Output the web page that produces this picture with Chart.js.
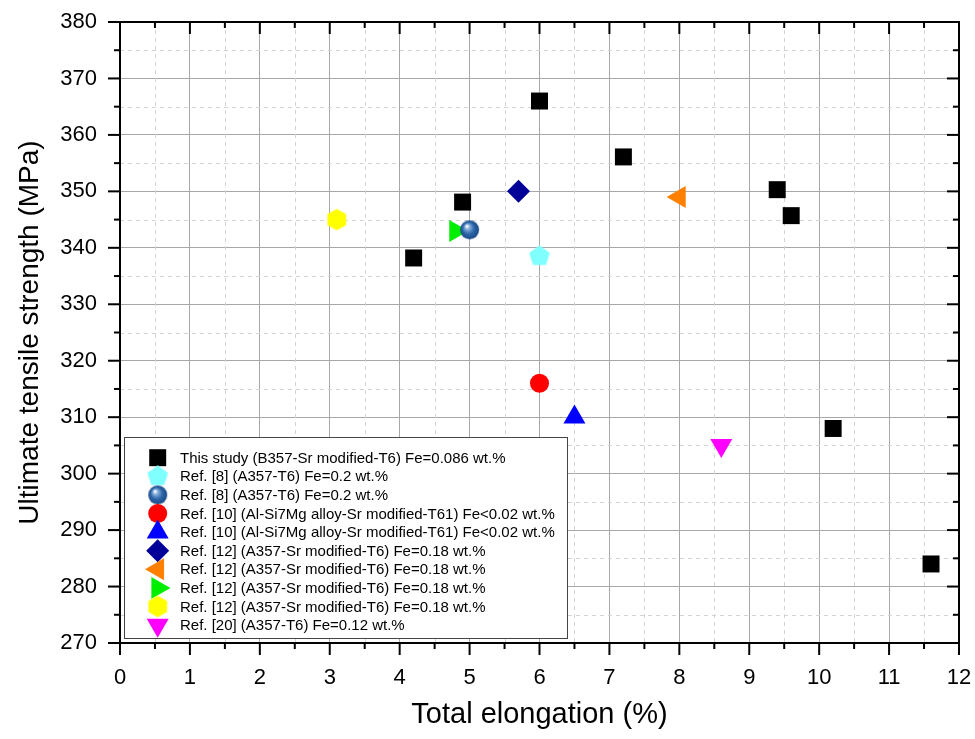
<!DOCTYPE html>
<html>
<head>
<meta charset="utf-8">
<script src="https://cdn.jsdelivr.net/npm/chart.js@4/dist/chart.umd.min.js"></script>
<style>
  html, body { margin: 0; padding: 0; background: #fff; }
  #wrap { width: 975px; height: 739px; }
</style>
</head>
<body>
<div id="wrap"><canvas id="uts"></canvas></div>
<script>
// data
const xTicks = [0, 1, 2, 3, 4, 5, 6, 7, 8, 9, 10, 11, 12]
const yTicks = [270, 280, 290, 300, 310, 320, 330, 340, 350, 360, 370, 380]

const seriesNames = [
  "This study (B357-Sr modified-T6) Fe=0.086 wt.%",
  "Ref. [8] (A357-T6) Fe=0.2 wt.%",
  "Ref. [8] (A357-T6) Fe=0.2 wt.%",
  "Ref. [10] (Al-Si7Mg alloy-Sr modified-T61) Fe<0.02 wt.%",
  "Ref. [10] (Al-Si7Mg alloy-Sr modified-T61) Fe<0.02 wt.%",
  "Ref. [12] (A357-Sr modified-T6) Fe=0.18 wt.%",
  "Ref. [12] (A357-Sr modified-T6) Fe=0.18 wt.%",
  "Ref. [12] (A357-Sr modified-T6) Fe=0.18 wt.%",
  "Ref. [12] (A357-Sr modified-T6) Fe=0.18 wt.%",
  "Ref. [20] (A357-T6) Fe=0.12 wt.%"
]

const thisStudyX = [4.2, 4.9, 6.0, 7.2, 9.4, 9.6, 10.2, 11.6]
const thisStudyY = [338.2, 348.1, 366, 356.1, 350.3, 345.7, 308, 284]
const ref8aX = [6.0],  ref8aY = [338.5]
const ref8bX = [5.0],  ref8bY = [343.2]
const ref10aX = [6.0], ref10aY = [316]
const ref10bX = [6.5], ref10bY = [310]
const ref12aX = [5.7], ref12aY = [350]
const ref12bX = [8.0], ref12bY = [349]
const ref12cX = [4.8], ref12cY = [343]
const ref12dX = [3.1], ref12dY = [345]
const ref20X = [8.6],  ref20Y = [305]

const seriesX = [thisStudyX, ref8aX, ref8bX, ref10aX, ref10bX, ref12aX, ref12bX, ref12cX, ref12dX, ref20X]
const seriesY = [thisStudyY, ref8aY, ref8bY, ref10aY, ref10bY, ref12aY, ref12bY, ref12cY, ref12dY, ref20Y]

// custom marker images (pentagon, sphere, hexagon)
function polygonMarker(sides, r, color, startAngle) {
  let c = document.createElement("canvas")
  let s = Math.ceil(r * 2 + 4)
  c.width = s; c.height = s
  let g = c.getContext("2d")
  g.fillStyle = color
  g.beginPath()
  for (let i = 0; i < sides; i++) {
    let a = startAngle + i * 2 * Math.PI / sides
    let px = s / 2 + r * Math.cos(a), py = s / 2 + r * Math.sin(a)
    if (i == 0) g.moveTo(px, py); else g.lineTo(px, py)
  }
  g.closePath()
  g.fill()
  return c
}

function sphereMarker(r) {
  let c = document.createElement("canvas")
  let s = Math.ceil(r * 2 + 4)
  c.width = s; c.height = s
  let g = c.getContext("2d")
  let grad = g.createRadialGradient(s / 2 - r * 0.3, s / 2 - r * 0.4, 0.5, s / 2, s / 2, r)
  grad.addColorStop(0, "#ffffff")
  grad.addColorStop(0.25, "#7fa8d8")
  grad.addColorStop(0.6, "#2c65a8")
  grad.addColorStop(1, "#1b4a86")
  g.fillStyle = grad
  g.beginPath()
  g.arc(s / 2, s / 2, r, 0, Math.PI * 2)
  g.fill()
  return c
}

const pentagon = polygonMarker(5, 10.9, "#80ffff", -Math.PI / 2)
const sphere = sphereMarker(9.5)
const hexagon = polygonMarker(6, 10.8, "#ffff00", -Math.PI / 2)

const markerStyles = [
  { style: "rect", rotation: 0, radius: 12, color: "#000000" },
  { style: pentagon, rotation: 0, radius: 11, color: "#80ffff" },
  { style: sphere, rotation: 0, radius: 10, color: "#2c65a8" },
  { style: "circle", rotation: 0, radius: 9.5, color: "#ff0000" },
  { style: "triangle", rotation: 0, radius: 12.7, color: "#0000ff" },
  { style: "rectRot", rotation: 0, radius: 11.5, color: "#000099" },
  { style: "triangle", rotation: -90, radius: 12.7, color: "#ff8000" },
  { style: "triangle", rotation: 90, radius: 12.7, color: "#00ee00" },
  { style: hexagon, rotation: 0, radius: 11, color: "#ffff00" },
  { style: "triangle", rotation: 180, radius: 12.7, color: "#ff00ff" }
]

const datasets = seriesNames.map((name, i) => ({
  label: name,
  data: seriesX[i].map((x, j) => ({ x: x, y: seriesY[i][j] })),
  pointStyle: markerStyles[i].style,
  rotation: markerStyles[i].rotation,
  pointRadius: markerStyles[i].radius,
  backgroundColor: markerStyles[i].color,
  borderColor: markerStyles[i].color,
  borderWidth: 0,
  showLine: false
}))

// minor grid, inward/outward ticks, frame
const framePlugin = {
  id: "frame",
  beforeDatasetsDraw(chart) {
    const { ctx, chartArea: a, scales: { x, y } } = chart
    ctx.save()
    ctx.strokeStyle = "#d4d4d4"
    ctx.lineWidth = 1
    ctx.setLineDash([4, 4])
    for (let v = 0.5; v < 12; v += 1) {
      let px = Math.round(x.getPixelForValue(v)) + 0.5
      ctx.beginPath(); ctx.moveTo(px, a.top); ctx.lineTo(px, a.bottom); ctx.stroke()
    }
    for (let v = 275; v < 380; v += 10) {
      let py = Math.round(y.getPixelForValue(v)) + 0.5
      ctx.beginPath(); ctx.moveTo(a.left, py); ctx.lineTo(a.right, py); ctx.stroke()
    }
    ctx.restore()
  },
  afterDraw(chart) {
    const { ctx, chartArea: a, scales: { x, y } } = chart
    ctx.save()
    ctx.strokeStyle = "#000"
    ctx.lineWidth = 2
    for (let v = 0; v <= 12; v += 0.5) {
      let px = x.getPixelForValue(v)
      let len = Number.isInteger(v) ? 12 : 6
      ctx.beginPath(); ctx.moveTo(px, a.bottom); ctx.lineTo(px, a.bottom + len); ctx.stroke()
      ctx.beginPath(); ctx.moveTo(px, a.top); ctx.lineTo(px, a.top + len); ctx.stroke()
    }
    for (let v = 270; v <= 380; v += 5) {
      let py = y.getPixelForValue(v)
      let len = v % 10 == 0 ? 12 : 6
      ctx.beginPath(); ctx.moveTo(a.left - len, py); ctx.lineTo(a.left, py); ctx.stroke()
      ctx.beginPath(); ctx.moveTo(a.right - len, py); ctx.lineTo(a.right, py); ctx.stroke()
    }
    ctx.strokeRect(a.left, a.top, a.right - a.left, a.bottom - a.top)
    ctx.restore()
  }
}

// legend box inside the plot, lower left
const boxLegend = {
  id: "boxLegend",
  afterDatasetsDraw(chart) {
    const { ctx, chartArea: a } = chart
    let bx = a.left + 4, by = 437, bw = 443, bh = 201
    ctx.save()
    ctx.fillStyle = "#fff"
    ctx.fillRect(bx, by, bw, bh)
    ctx.strokeStyle = "#444"
    ctx.lineWidth = 1
    ctx.strokeRect(bx + 0.5, by + 0.5, bw, bh)
    ctx.font = "15px 'Liberation Sans', Arial, sans-serif"
    ctx.textBaseline = "middle"
    ctx.textAlign = "left"
    seriesNames.forEach((name, i) => {
      let rowY = by + 20.7 + i * 18.6
      ctx.fillStyle = markerStyles[i].color
      ctx.strokeStyle = markerStyles[i].color
      Chart.helpers.drawPoint(ctx, {
        pointStyle: markerStyles[i].style,
        rotation: markerStyles[i].rotation,
        radius: markerStyles[i].radius,
        borderWidth: 0
      }, a.left + 37.7, rowY)
      ctx.fillStyle = "#000"
      ctx.fillText(name, a.left + 60, rowY + 1)
    })
    ctx.restore()
  }
}

const tickFont = { family: "'Liberation Sans', Arial, sans-serif", size: 22 }

new Chart(document.getElementById("uts"), {
  type: "scatter",
  data: { datasets: datasets },
  options: {
    responsive: true,
    maintainAspectRatio: false,
    animation: false,
    layout: { padding: { top: 22, right: 16, left: 0, bottom: 0 } },
    plugins: {
      legend: { display: false },
      tooltip: { enabled: false }
    },
    scales: {
      x: {
        type: "linear",
        min: 0,
        max: 12,
        afterBuildTicks: (scale) => { scale.ticks = xTicks.map(v => ({ value: v })) },
        afterFit: (scale) => {
          scale.height = 96
          scale.paddingLeft = 0
          scale.paddingRight = 0
        },
        ticks: { color: "#000", font: tickFont, padding: 22, maxRotation: 0 },
        grid: { color: "#a8a8a8", lineWidth: 1, drawTicks: false },
        border: { display: false },
        title: {
          display: true, text: "Total elongation (%)", color: "#000",
          font: { family: "'Liberation Sans', Arial, sans-serif", size: 29 },
          padding: { top: 0, bottom: 7 }
        }
      },
      y: {
        type: "linear",
        min: 270,
        max: 380,
        afterBuildTicks: (scale) => { scale.ticks = yTicks.map(v => ({ value: v })) },
        afterFit: (scale) => {
          scale.width = 120
          scale.paddingTop = 0
          scale.paddingBottom = 0
        },
        ticks: { color: "#000", font: tickFont, padding: 23 },
        grid: { color: "#a8a8a8", lineWidth: 1, drawTicks: false },
        border: { display: false },
        title: {
          display: true, text: "Ultimate tensile strength (MPa)", color: "#000",
          font: { family: "'Liberation Sans', Arial, sans-serif", size: 28 },
          padding: { top: 13, bottom: 0 }
        }
      }
    }
  },
  plugins: [framePlugin, boxLegend]
})
</script>
</body>
</html>
